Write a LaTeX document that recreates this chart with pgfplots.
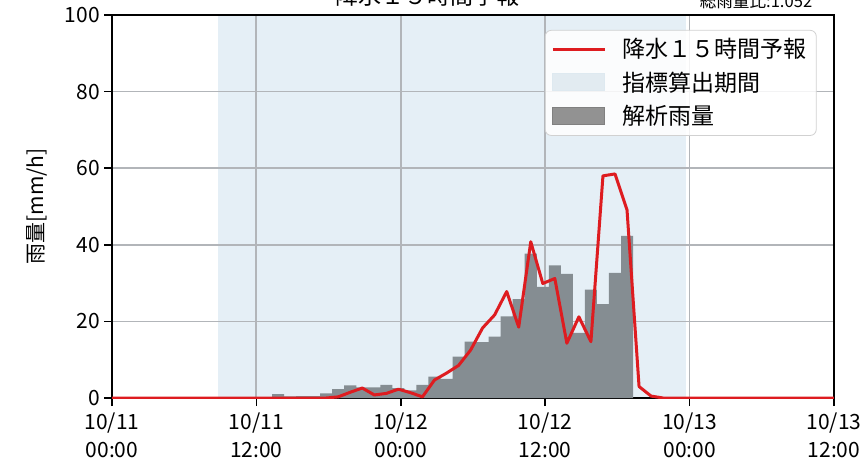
\documentclass[border=0pt]{standalone}
\usepackage{fontspec}
\setmainfont{Noto Sans CJK JP}
\usepackage{pgfplots}
\pgfplotsset{compat=1.18}
\definecolor{shade}{RGB}{229,239,246}
\definecolor{barc}{RGB}{133,141,146}
\definecolor{legbar}{RGB}{128,128,128}
\definecolor{legshade}{RGB}{222,233,240}
\definecolor{redl}{RGB}{222,28,32}
\definecolor{gridc}{RGB}{178,181,185}
\begin{document}
\begin{tikzpicture}
\begin{axis}[
  set layers,
  scale only axis, width=361pt, height=191.5pt,
  at={(0,0)}, anchor=south west,
  xmin=0, xmax=60, ymin=0, ymax=100,
  xtick={0,12,24,36,48,60},
  xticklabels={{10/11\\00:00},{10/11\\12:00},{10/12\\00:00},{10/12\\12:00},{10/13\\00:00},{10/13\\12:00}},
  xticklabel style={align=center, font=\fontsize{10.5}{14}\selectfont},
  ytick={0,20,...,100},
  yticklabel style={font=\fontsize{10.5}{12}\selectfont, xshift=1.5pt},
  /pgf/number format/assume math mode=true,
  tick align=outside, tick pos=left, major tick length=4pt,
  major tick style={black, line width=0.8pt},
  grid=major, major grid style={gridc, line width=0.9pt},
  axis line style={line width=0.8pt},
  ylabel={雨量[mm/h]},
  ylabel style={at={(axis description cs:-0.104,0.5)}, anchor=center, font=\fontsize{10.5}{12}\selectfont},
  legend style={at={(0.976,0.961)}, anchor=north east, draw=black!18, rounded corners=3pt,
    fill=white, fill opacity=0.85, text opacity=1, font=\fontsize{11.5}{13}\selectfont,
    inner xsep=3pt, inner ysep=2pt, row sep=1.5pt, column sep=6pt},
  legend cell align=left,
]
\addlegendimage{legend image code/.code={\draw[redl, line width=1.5pt, sharp corners] (0pt,0pt) -- (26pt,0pt);}}
\addlegendentry{降水１５時間予報}
\addlegendimage{legend image code/.code={\fill[legshade, sharp corners] (0pt,-4pt) rectangle (26pt,4.5pt);}}
\addlegendentry{指標算出期間}
\addlegendimage{legend image code/.code={\fill[legbar, sharp corners] (0pt,-4pt) rectangle (26pt,4.5pt);}}
\addlegendentry{解析雨量}

% index period
\addplot[fill=shade, draw=none, forget plot, on layer=axis background] coordinates {(8.8,100) (47.7,100)} \closedcycle;

% analysed rainfall (hourly bars)
\addplot[const plot, fill=barc, draw=none, forget plot] coordinates {
(13.3,1.0) (14.3,0.4) (15.3,0.5) (16.3,0.5) (17.3,1.2) (18.3,2.3) (19.3,3.3) (20.3,2.8)
(21.3,2.8) (22.3,3.4) (23.3,2.6) (24.3,2.0) (25.3,3.4) (26.3,5.6) (27.3,5.0) (28.3,10.8)
(29.3,14.7) (30.3,14.6) (31.3,16.0) (32.3,21.3) (33.3,25.8) (34.3,37.7) (35.3,29.0)
(36.3,34.6) (37.3,32.4) (38.3,17.0) (39.3,28.3) (40.3,24.5) (41.3,32.7) (42.3,42.3) (43.3,0)
} \closedcycle;

% forecast
\addplot[redl, line width=1.5pt, line join=round, forget plot] coordinates {
(0,0) (17.8,0) (18.8,0.3) (19.8,1.5) (20.8,2.6) (21.8,0.8) (22.8,1.2) (23.8,2.3) (24.8,1.4)
(25.8,0.3) (26.8,4.7) (27.8,6.5) (28.8,8.5) (29.8,12.5) (30.8,18.3) (31.8,21.7) (32.8,27.8)
(33.8,18.5) (34.8,40.8) (35.8,29.9) (36.8,31.2) (37.8,14.3) (38.8,21.2) (39.8,14.7)
(40.8,58.0) (41.8,58.5) (42.8,49.1) (43.8,3.0) (44.8,0.5) (45.8,0) (60,0)
};
\end{axis}
\node[anchor=base, font=\fontsize{11.5}{12}\selectfont] at (157.5pt,196.9pt) {降水１５時間予報};
\node[anchor=base, font=\fontsize{8.3}{9}\selectfont] at (322pt,195pt) {総雨量比:1.052};
\pgfresetboundingbox
\useasboundingbox (-56pt,-34pt) rectangle (377.5pt,199pt);
\end{tikzpicture}
\end{document}
